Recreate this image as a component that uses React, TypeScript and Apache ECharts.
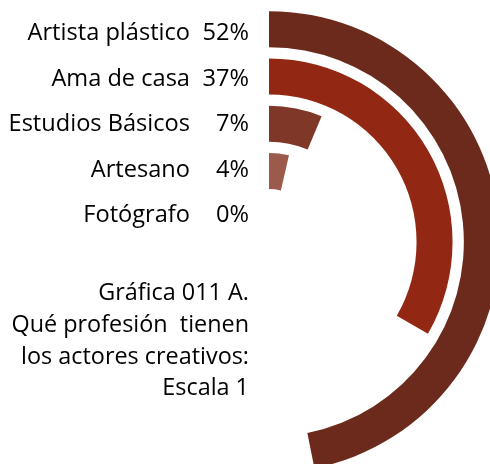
import React, { useEffect, useRef } from "react";
import * as echarts from "echarts";

const categories = ["Artista plástico", "Ama de casa", "Estudios Básicos", "Artesano", "Fotógrafo"];
const values = [52, 37, 7, 4, 0];
const colors = ["#6B2A1C", "#922814", "#7F3828", "#9B5A4C", "#E8CFCA"];
const titleLines = ["Gráfica 011 A.", "Qué profesión  tienen", "los actores creativos:", "Escala 1"];

const FONT = "'Open Sans', 'Noto Sans', sans-serif";

export default function App() {
  const ref = useRef<HTMLDivElement>(null);
  useEffect(() => {
    if (!ref.current) return;
    const chart = echarts.init(ref.current, undefined, { renderer: "svg" });
    const inner = [...categories].reverse();
    const innerVals = [...values].reverse();
    const innerColors = [...colors].reverse();
    const graphics: any[] = [];
    categories.forEach((c, i) => {
      const y = 31 + i * 45.5;
      graphics.push({
        type: "text",
        x: 190,
        y,
        style: { text: c, font: `23.6px ${FONT}`, fill: "#000", align: "right", verticalAlign: "middle" },
      });
      graphics.push({
        type: "text",
        x: 249,
        y,
        style: { text: values[i] + "%", font: `23.6px ${FONT}`, fill: "#000", align: "right", verticalAlign: "middle" },
      });
    });
    titleLines.forEach((t, i) => {
      graphics.push({
        type: "text",
        x: 249,
        y: 291 + i * 31.8,
        style: { text: t, font: `23.4px ${FONT}`, fill: "#000", align: "right", verticalAlign: "middle" },
      });
    });
    chart.setOption({
      animation: false,
      polar: { center: [269, 242], radius: [0, 236.5] },
      angleAxis: { type: "value", min: 0, max: 111, startAngle: 90, clockwise: true, show: false },
      radiusAxis: { type: "category", data: inner, show: false },
      series: [
        {
          type: "bar",
          coordinateSystem: "polar",
          barWidth: 36,
          data: innerVals.map((v, i) => ({
            value: v,
            itemStyle: v === 0
              ? { color: innerColors[i], borderColor: innerColors[i], borderWidth: 1 }
              : { color: innerColors[i] },
          })),
        },
      ],
      graphic: graphics,
    });
    return () => chart.dispose();
  }, []);
  return <div ref={ref} style={{ position: "fixed", left: 0, top: 0, width: 490, height: 464 }} />;
}
